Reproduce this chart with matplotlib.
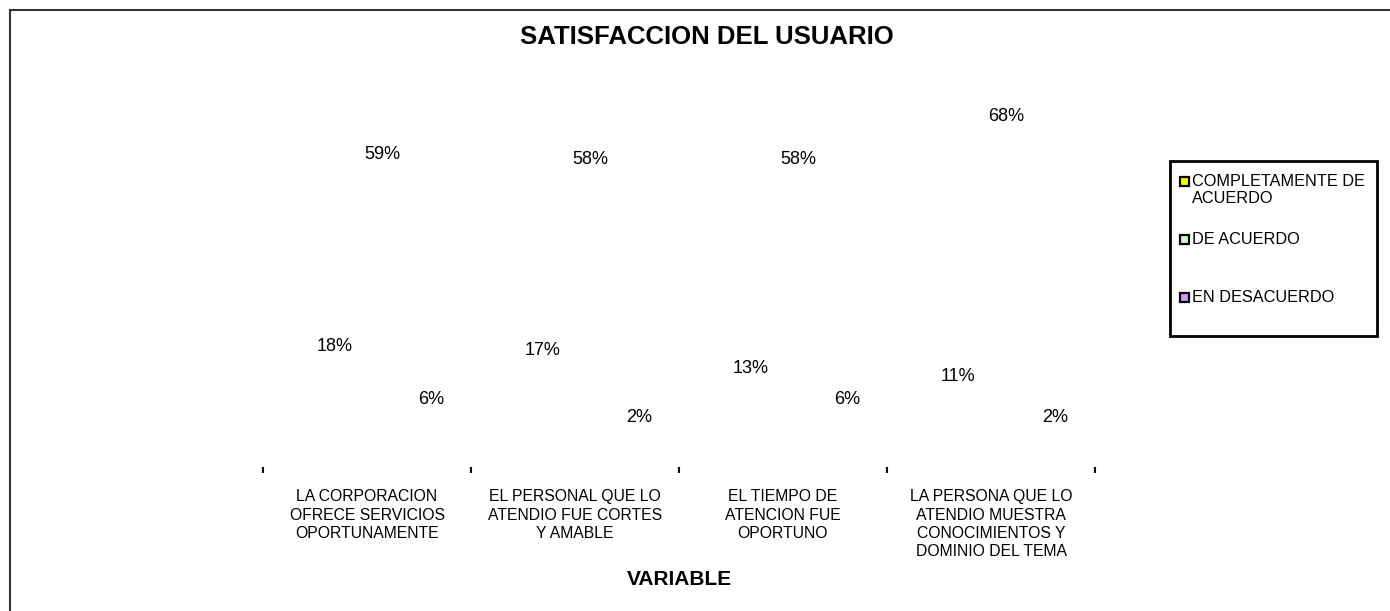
import numpy as np
import matplotlib
matplotlib.use("Agg")
import matplotlib.pyplot as plt
from matplotlib.patches import Rectangle

plt.rcParams['font.family'] = ['Liberation Sans', 'DejaVu Sans']

# datos
categorias = ["LA CORPORACION\nOFRECE SERVICIOS\nOPORTUNAMENTE",
              "EL PERSONAL QUE LO\nATENDIO FUE CORTES\nY AMABLE",
              "EL TIEMPO DE\nATENCION FUE\nOPORTUNO",
              "LA PERSONA QUE LO\nATENDIO MUESTRA\nCONOCIMIENTOS Y\nDOMINIO DEL TEMA"]
series = ["COMPLETAMENTE DE\nACUERDO", "DE ACUERDO", "EN DESACUERDO"]
completamente = [18, 17, 13, 11]
de_acuerdo = [59, 58, 58, 68]
desacuerdo = [6, 2, 6, 2]
colores = ['#FFFF00', '#CCFFCC', '#CC99FF']

valores = [completamente, de_acuerdo, desacuerdo]

W, H = 1390, 611
fig = plt.figure(figsize=(W / 100, H / 100), dpi=100)

# eje principal (las barras no se ven, solo las etiquetas)
ax = fig.add_axes([263 / W, (H - 467) / H, (1095 - 263) / W, 365.5 / H])
ax.set_xlim(-0.5, 3.5)
ax.set_ylim(0, 85)

x = np.arange(len(categorias))
ancho = 0.233
desplaz = [10.0, 13.6, 9.6]  # efecto 3D del grafico original
for j, vals in enumerate(valores):
    pos = x + 0.075 + (j - 1) * ancho
    ax.bar(pos, vals, width=ancho, color='none', edgecolor='none')
    for p, v in zip(pos, vals):
        ax.text(p, v + desplaz[j], f"{v}%", ha='center', va='center',
                fontsize=13, clip_on=False)

for s in ax.spines.values():
    s.set_visible(False)
ax.set_yticks([])
ax.set_xticks(np.arange(-0.5, 4, 1))
ax.set_xticklabels([])
ax.tick_params(axis='x', which='major', direction='out', length=4, width=1.5, color='black')
ax.set_xticks(x, minor=True)
ax.set_xticklabels(categorias, minor=True, fontsize=11.3, linespacing=1.28)
ax.tick_params(axis='x', which='minor', length=0, pad=16)

ax.set_xlabel("VARIABLE", fontsize=15, fontweight='bold')
ax.xaxis.set_label_coords(0.5, -(570 - 467) / 365.5)

fig.text(707 / W, 1 - 44 / H, "SATISFACCION DEL USUARIO", ha='center', va='baseline',
         fontsize=18.5, fontweight='bold')

# marco del grafico
fig.patches.append(Rectangle((10 / W, -0.1), 1.2, (H - 10) / H + 0.1,
                             transform=fig.transFigure, fill=False,
                             edgecolor='#333333', linewidth=1.5))

# leyenda
fig.patches.append(Rectangle((1170 / W, 1 - 336 / H), (1377 - 1170) / W, (336 - 161) / H,
                             transform=fig.transFigure, fill=True, facecolor='white',
                             edgecolor='black', linewidth=2))
filas = [182, 240, 298]
for nombre, col, yy in zip(series, colores, filas):
    fig.patches.append(Rectangle((1180 / W, 1 - (yy + 4) / H), 9 / W, 9 / H,
                                 transform=fig.transFigure, facecolor=col,
                                 edgecolor='black', linewidth=1.6))
    fig.text(1192 / W, 1 - (yy - 8) / H, nombre, ha='left', va='top',
             fontsize=11.7, linespacing=1.15)

fig.savefig("out.png", dpi=100)
